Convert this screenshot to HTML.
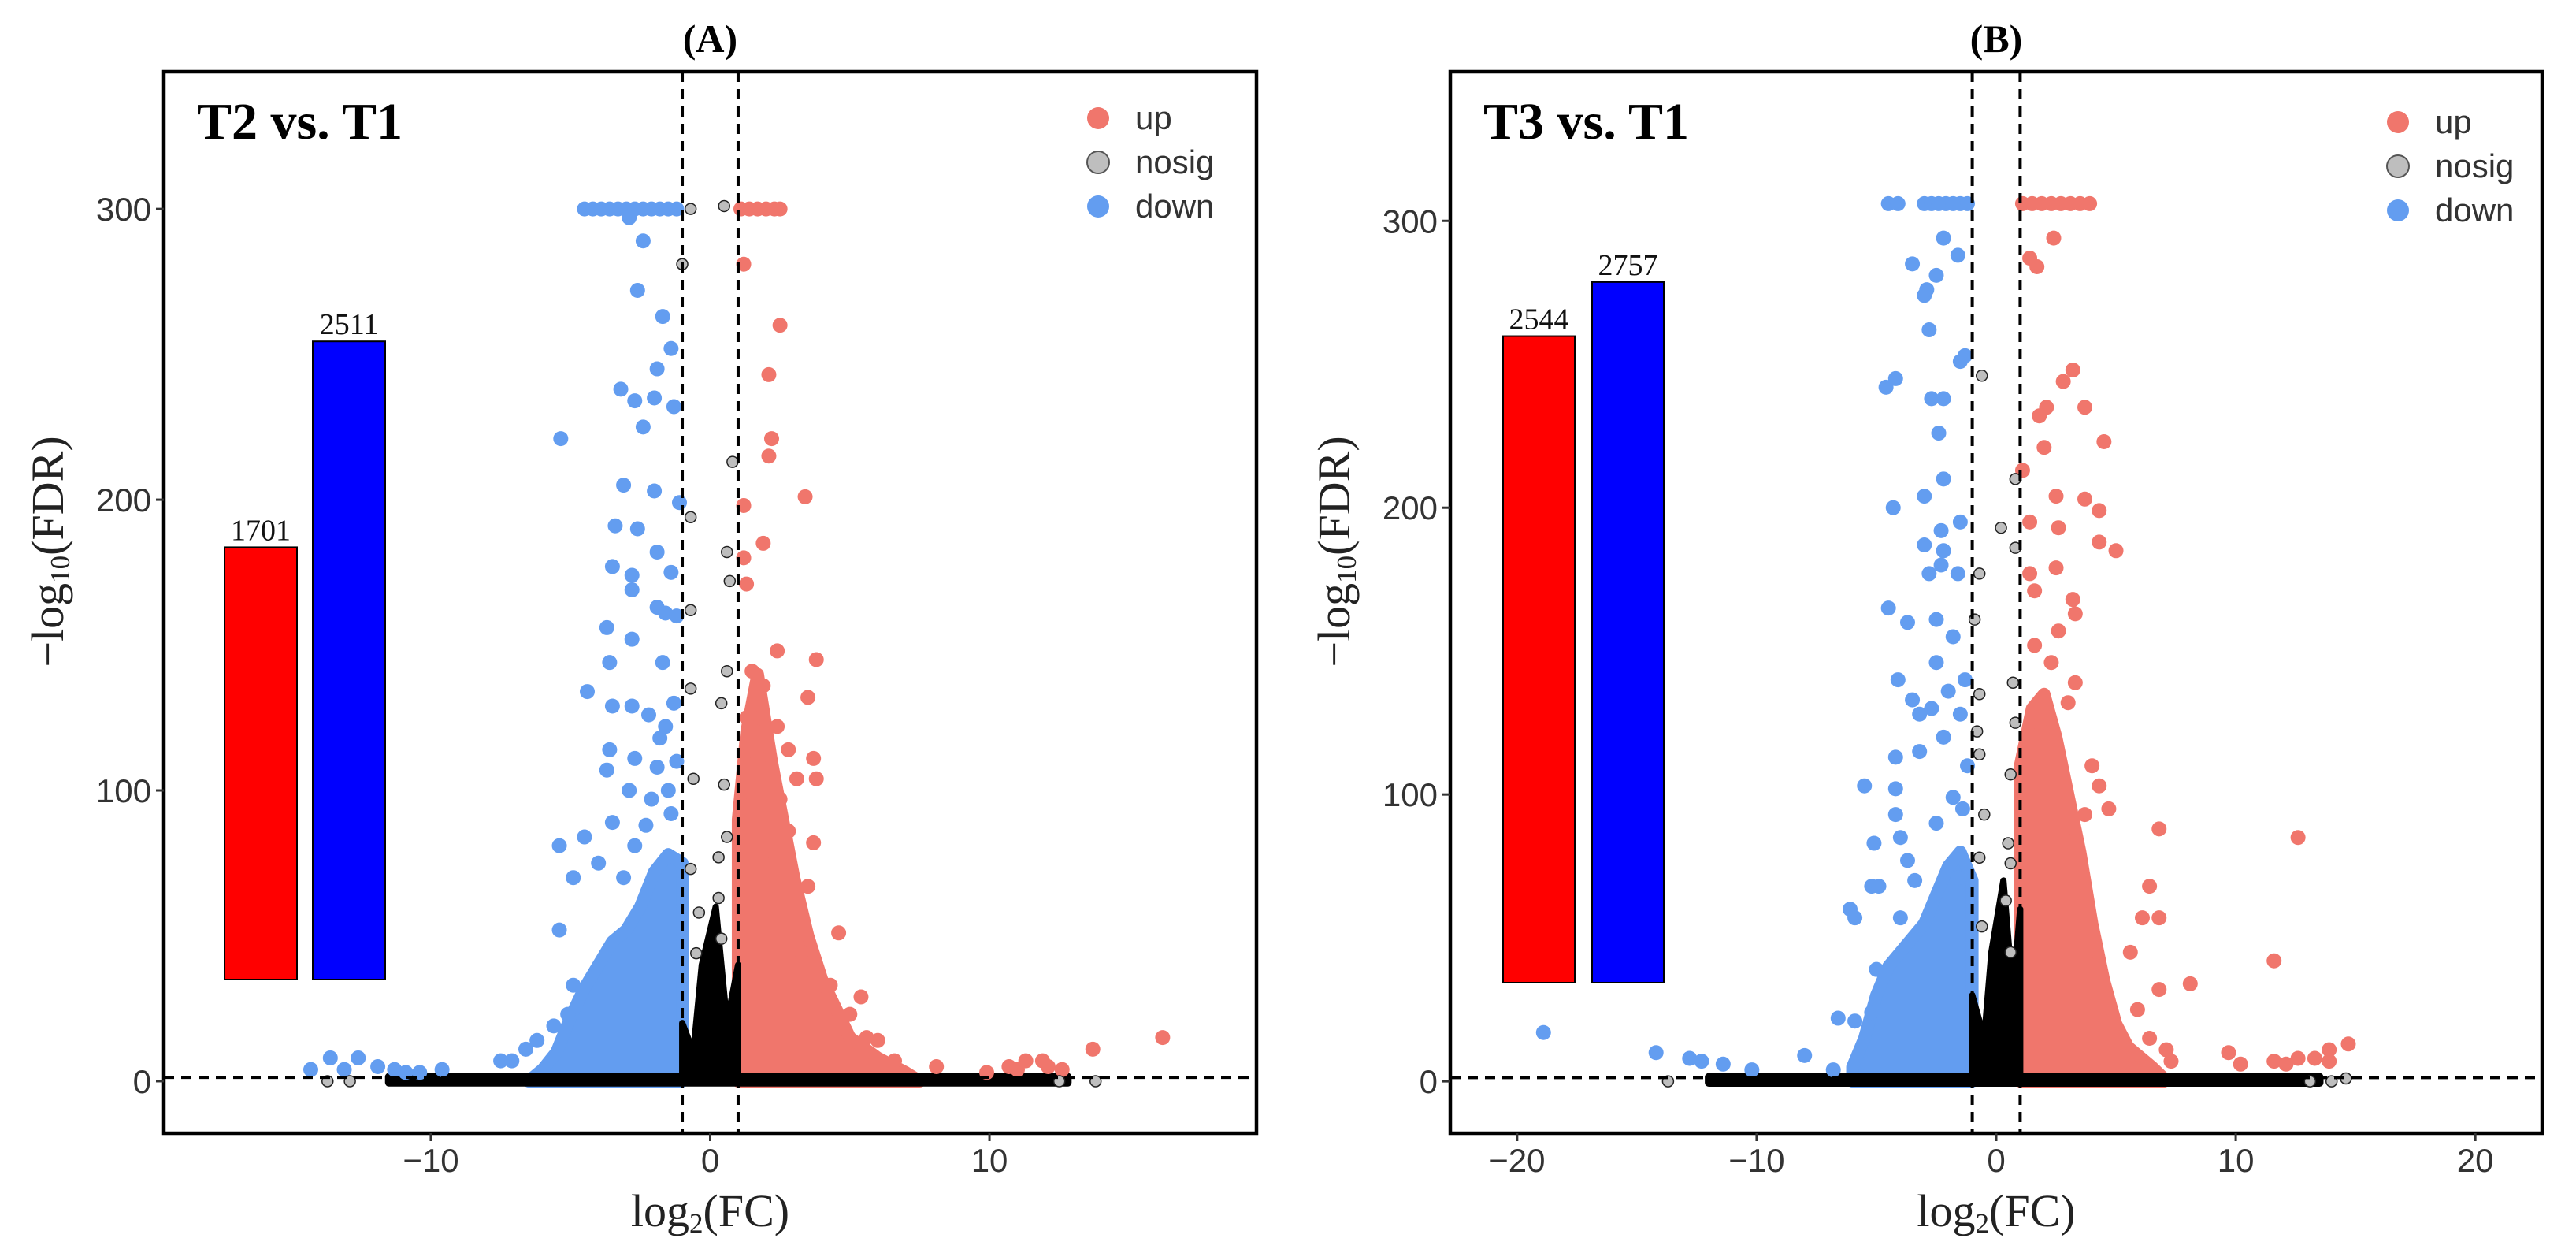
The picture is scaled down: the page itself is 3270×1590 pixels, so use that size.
<!DOCTYPE html>
<html><head><meta charset="utf-8">
<style>
html,body{margin:0;padding:0;background:#fff;}
svg{display:block;}
.tick{font-family:"Liberation Sans",sans-serif;font-size:42px;fill:#333;}
.ser{font-family:"Liberation Serif",serif;}
</style></head>
<body>
<svg id="chart" width="3270" height="1590" viewBox="0 0 3270 1590" xmlns="http://www.w3.org/2000/svg"></svg>
<script>
// ---------- Panel A data ----------
const aDown = [[-5.35,221],[-2.4,289],[-2.6,272],[-1.7,263],[-1.4,252],[-1.9,245],[-3.2,238],[-2.7,234],[-2.4,225],[-2,235],[-1.3,232],[-3.1,205],[-2,203],[-1.1,199],[-3.4,191],[-2.6,190],[-1.9,182],[-3.5,177],[-2.8,174],[-2.8,169],[-1.9,163],[-1.6,161],[-3.7,156],[-2.8,152],[-3.6,144],[-1.7,144],[-4.4,134],[-3.5,129],[-2.8,129],[-2.2,126],[-1.6,122],[-3.6,114],[-2.7,111],[-1.9,108],[-3.7,107],[-2.9,100],[-2.1,97],[-1.4,92],[-5.4,81],[-4.5,84],[-3.5,89],[-2.7,81],[-4.9,70],[-4.0,75],[-3.1,70],[-5.4,52],[-4.9,33],[-5.1,23],[-5.6,19],[-6.2,14],[-6.6,11],[-7.5,7],[-7.1,7],[-9.6,4],[-10.4,3],[-11.3,4],[-11.9,5],[-12.6,8],[-13.6,8],[-14.3,4],[-13.1,4],[-10.9,3],[-4.5,300],[-4.2,300],[-3.9,300],[-3.6,300],[-3.3,300],[-3.0,300],[-2.7,300],[-2.4,300],[-2.1,300],[-1.8,300],[-1.5,300],[-1.2,300],[-2.9,297],[-1.2,110],[-1.5,100],[-1.3,130],[-1.8,118],[-2.3,88],[-1.2,160],[-1.4,175]];
const aUp = [[1.2,281],[2.5,260],[2.1,243],[2.2,221],[2.1,215],[3.4,201],[1.2,198],[1.9,185],[1.2,180],[1.3,171],[2.4,148],[3.8,145],[1.5,141],[1.9,136],[3.5,132],[2.4,122],[1.3,125],[2.8,114],[3.7,111],[3.8,104],[3.1,104],[3.7,82],[2.8,86],[3.5,67],[4.6,51],[3.2,45],[4.3,33],[5.4,29],[5,23],[4.6,18],[5.6,15],[6,14],[6.6,7],[8.1,5],[10.7,5],[11.3,7],[11.9,7],[12.6,4],[13.7,11],[16.2,15],[9.9,3],[11,4],[12.1,5],[1.8,125],[2.5,97],[1.9,75],[1.1,300],[1.4,300],[1.7,300],[2.0,300],[2.3,300],[2.5,300]];
const aNosig = [[-0.7,300],[0.5,301],[-1,281],[0.8,213],[-0.7,194],[0.6,182],[0.7,172],[-0.7,162],[0.6,141],[-0.7,135],[0.4,130],[-0.6,104],[0.5,102],[0.6,84],[0.3,77],[-0.7,73],[0.3,63],[-0.4,58],[0.4,49],[-0.5,44],[-13.7,0],[13.8,0],[12.5,0],[-12.9,0]];
const aDownCore = [[-6.5,0],[-6,4],[-5.5,10],[-5,22],[-4.5,32],[-4,40],[-3.5,48],[-3,52],[-2.5,60],[-2,72],[-1.5,78],[-1,75],[-1,0]];
const aUpCore = [[1,0],[1,90],[1.3,120],[1.7,140],[2.2,110],[2.7,85],[3,70],[3.5,50],[4,35],[4.5,25],[5,15],[6,8],[7,3],[7.5,0]];
const aNosigCore = [[-1,0],[-1,20],[-0.6,10],[-0.3,40],[0.2,60],[0.6,20],[1,40],[1,0]];
const aBand = [[-11.5,-0.5],[-11.5,1.5],[12.8,1.5],[12.8,-0.5]];
const aCounts = [1701, 2511];
const aXTicks = [-10, 0, 10];
const aYTicks = [0, 100, 200, 300];

// ---------- Panel B data ----------
const bDown = [[-18.9,17],[-14.2,10],[-12.8,8],[-12.3,7],[-11.4,6],[-10.2,4],[-8,9],[-6.8,4],[-6.6,22],[-5.9,21],[-5.2,24],[-5,39],[-6.1,60],[-5.9,57],[-5.2,68],[-5.5,103],[-4.2,102],[-4.2,93],[-5.1,83],[-4,85],[-3.7,77],[-4.9,68],[-3.4,70],[-4,57],[-4.5,165],[-3.7,160],[-4.1,140],[-3.5,133],[-3.2,128],[-2.7,130],[-2,136],[-1.5,128],[-2.5,146],[-1.8,155],[-2.5,161],[-2.8,177],[-2.3,180],[-1.6,177],[-3,187],[-2.2,185],[-2.3,192],[-1.5,195],[-3,204],[-2.2,210],[-4.3,200],[-2.4,226],[-2.7,238],[-2.2,238],[-4.2,245],[-4.6,242],[-1.5,251],[-1.3,253],[-2.8,262],[-3,274],[-2.9,276],[-2.5,281],[-3.5,285],[-2.2,294],[-1.6,288],[-4.2,113],[-2.2,120],[-3.2,115],[-1.8,99],[-2.5,90],[-1.6,71],[-4.5,306],[-4.1,306],[-3.0,306],[-2.7,306],[-2.4,306],[-2.1,306],[-1.8,306],[-1.5,306],[-1.2,306],[-1.2,110],[-1.4,95],[-1.3,140]];
const bUp = [[1.4,287],[1.7,284],[2.4,294],[3.2,248],[2.8,244],[2.1,235],[1.8,232],[3.7,235],[4.5,223],[2,221],[1.1,213],[2.5,204],[3.7,203],[4.3,199],[1.4,195],[2.6,193],[4.3,188],[5,185],[1.4,177],[2.5,179],[1.6,171],[3.2,168],[3.3,163],[2.6,157],[1.6,152],[2.3,146],[3.3,139],[3,132],[2,127],[4,110],[4.3,103],[4.7,95],[3.7,93],[12.6,85],[6.8,88],[6.4,68],[6.1,57],[6.8,57],[5.6,45],[11.6,42],[8.1,34],[6.8,32],[5.9,25],[6.4,15],[7.1,11],[7.3,7],[9.7,10],[10.2,6],[11.6,7],[12.6,8],[13.3,8],[13.9,7],[14.7,13],[13.9,11],[12.1,6],[2.6,99],[3.2,82],[3.5,71],[1.1,306],[1.5,306],[1.9,306],[2.3,306],[2.7,306],[3.1,306],[3.5,306],[3.9,306]];
const bNosig = [[-0.6,246],[0.8,210],[0.2,193],[0.8,186],[-0.7,177],[-0.9,161],[0.7,139],[-0.7,135],[0.8,125],[-0.8,122],[-0.7,114],[0.6,107],[-0.5,93],[0.5,83],[-0.7,78],[0.6,76],[0.4,63],[-0.6,54],[0.6,45],[-13.7,0],[13.1,0],[14,0],[14.6,1]];
const bDownCore = [[-6,0],[-6,5],[-5.5,15],[-5,30],[-4.5,40],[-4,45],[-3,55],[-2,75],[-1.5,80],[-1,70],[-1,0]];
const bUpCore = [[1,0],[1,110],[1.5,130],[2,135],[2.5,120],[3,100],[3.5,80],[4,55],[4.5,35],[5,20],[5.5,12],[6.5,5],[7,1],[7,0]];
const bNosigCore = [[-1,0],[-1,30],[-0.5,15],[-0.2,45],[0.3,70],[0.7,30],[1,60],[1,0]];
const bBand = [[-12,-0.5],[-12,1.5],[13.5,1.5],[13.5,-0.5]];
const bCounts = [2544, 2757];
const bXTicks = [-20, -10, 0, 10, 20];
const bYTicks = [0, 100, 200, 300];

const UP = '#F0766C', DOWN = '#639DF0', NOSIG = '#BEBEBE';
const NS = 'http://www.w3.org/2000/svg';
const svg = document.getElementById('chart');
function mk(tag, attrs, parent) {
  const e = document.createElementNS(NS, tag);
  for (const k in attrs) e.setAttribute(k, attrs[k]);
  (parent || svg).appendChild(e);
  return e;
}

function panel(cfg, d) {
  const g = mk('g', {});
  
  
  const sx = v => cfg.x0 + (v - cfg.xmin) / (cfg.xmax - cfg.xmin) * (cfg.x1 - cfg.x0);
  const sy = v => cfg.y1 - (v - cfg.ymin) / (cfg.ymax - cfg.ymin) * (cfg.y1 - cfg.y0);
  const poly = (pts, col, nm, sw) => {
    const p = mk('polygon', {points: pts.map(q => sx(q[0]) + ',' + sy(q[1])).join(' '), fill: col, stroke: col, 'stroke-width': sw, 'stroke-linejoin': 'round'}, g);
    
    
  };
  poly(d.downCore, DOWN, 'down-dense-region', 16);
  poly(d.upCore, UP, 'up-dense-region', 16);
  poly(d.band, '#000', 'nosig-dense-band', 10);
  poly(d.nosigCore, '#000', 'nosig-dense-core', 8);
  d.down.forEach(p => {
    const c = mk('circle', {cx: sx(p[0]), cy: sy(p[1]), r: 9.5, fill: DOWN}, g);
    
    
  });
  d.up.forEach(p => {
    const c = mk('circle', {cx: sx(p[0]), cy: sy(p[1]), r: 9.5, fill: UP}, g);
    
    
  });
  d.nosig.forEach(p => {
    const c = mk('circle', {cx: sx(p[0]), cy: sy(p[1]), r: 7, fill: NOSIG, stroke: '#222', 'stroke-width': 1.5}, g);
    
    
  });
  [-1, 1].forEach(v => {
    const l = mk('line', {x1: sx(v), x2: sx(v), y1: cfg.y0, y2: cfg.y1, stroke: '#000', 'stroke-width': 4, 'stroke-dasharray': '13 9'}, g);
    
    
  });
  const hl = mk('line', {x1: cfg.x0, x2: cfg.x1, y1: sy(1.3), y2: sy(1.3), stroke: '#000', 'stroke-width': 4, 'stroke-dasharray': '13 9'}, g);
  
  
  const cols = ['#FF0000', '#0000FF'];
  d.counts.forEach((c, i) => {
    const bx = cfg.barX[i], top = cfg.barBase - c * cfg.barScale;
    const r = mk('rect', {x: bx, y: top, width: cfg.barW, height: c * cfg.barScale, fill: cols[i], stroke: '#000', 'stroke-width': 2}, g);
    
    
    const t = mk('text', {x: bx + cfg.barW / 2, y: top - 9, 'text-anchor': 'middle', class: 'ser', 'font-size': 38, fill: '#111'}, g);
    t.textContent = c;
    
    
  });
  const fr = mk('rect', {x: cfg.x0, y: cfg.y0, width: cfg.x1 - cfg.x0, height: cfg.y1 - cfg.y0, fill: 'none', stroke: '#000', 'stroke-width': 4.5}, g);
  
  
  d.xticks.forEach(v => {
    const l = mk('line', {x1: sx(v), x2: sx(v), y1: cfg.y1, y2: cfg.y1 + 10, stroke: '#333', 'stroke-width': 3}, g);
    
    
    const t = mk('text', {x: sx(v), y: cfg.y1 + 49, 'text-anchor': 'middle', class: 'tick'}, g);
    t.textContent = v < 0 ? '\u2212' + (-v) : String(v);
    
    
  });
  d.yticks.forEach(v => {
    const l = mk('line', {x1: cfg.x0 - 10, x2: cfg.x0, y1: sy(v), y2: sy(v), stroke: '#333', 'stroke-width': 3}, g);
    
    
    const t = mk('text', {x: cfg.x0 - 16, y: sy(v) + 15, 'text-anchor': 'end', class: 'tick'}, g);
    t.textContent = v;
    
    
  });
  const pl = mk('text', {x: sx(0), y: 66, 'text-anchor': 'middle', class: 'ser', 'font-size': 50, 'font-weight': 'bold'}, g);
  pl.textContent = cfg.letter;
  
  
  const ct = mk('text', {x: cfg.x0 + 42, y: 176, class: 'ser', 'font-size': 66, 'font-weight': 'bold'}, g);
  ct.textContent = cfg.title;
  
  
  const xt = mk('text', {x: sx(0), y: 1556, 'text-anchor': 'middle', class: 'ser', 'font-size': 58, fill: '#222'}, g);
  xt.innerHTML = 'log<tspan font-size="35" dy="8">2</tspan><tspan dy="-8">(FC)</tspan>';
  
  
  const yt = mk('text', {x: 0, y: 0, 'text-anchor': 'middle', class: 'ser', 'font-size': 58, fill: '#222', transform: `translate(${cfg.x0 - 128},700) rotate(-90)`}, g);
  yt.innerHTML = '\u2212log<tspan font-size="35" dy="8">10</tspan><tspan dy="-8">(FDR)</tspan>';
  
  
  [['up', UP], ['nosig', NOSIG], ['down', DOWN]].forEach((e, i) => {
    const lg = mk('g', {}, g);
    
    
    const c = mk('circle', {cx: cfg.legX, cy: cfg.legY + i * 56, r: 14, fill: e[1], stroke: i === 1 ? '#555' : 'none', 'stroke-width': 2}, lg);
    
    
    const t = mk('text', {x: cfg.legX + 47, y: cfg.legY + i * 56 + 14, class: 'tick', 'font-size': 40}, lg);
    t.textContent = e[0];
    
    
  });
}

panel({name: 'panel-a', letter: '(A)', title: 'T2 vs. T1', x0: 208, x1: 1595, y0: 91, y1: 1438,
  xmin: -19.56, xmax: 19.56, ymin: -17.9, ymax: 347.2,
  barX: [285, 397], barW: 92, barBase: 1243, barScale: 0.3225, legX: 1394, legY: 150},
  {down: aDown, up: aUp, nosig: aNosig, downCore: aDownCore, upCore: aUpCore, nosigCore: aNosigCore, band: aBand, counts: aCounts, xticks: aXTicks, yticks: aYTicks});
panel({name: 'panel-b', letter: '(B)', title: 'T3 vs. T1', x0: 1841, x1: 3227, y0: 91, y1: 1438,
  xmin: -22.79, xmax: 22.79, ymin: -18.1, ymax: 352,
  barX: [1908, 2021], barW: 91, barBase: 1247, barScale: 0.3225, legX: 3044, legY: 155},
  {down: bDown, up: bUp, nosig: bNosig, downCore: bDownCore, upCore: bUpCore, nosigCore: bNosigCore, band: bBand, counts: bCounts, xticks: bXTicks, yticks: bYTicks});
</script>
</body></html>
